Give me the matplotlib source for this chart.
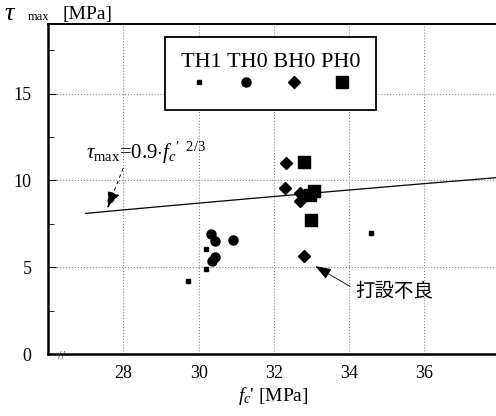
import matplotlib
matplotlib.use('Agg')
import numpy as np
import matplotlib.pyplot as plt
from matplotlib.ticker import MultipleLocator

plt.rcParams['font.family'] = ['Liberation Serif', 'Noto Sans CJK JP', 'DejaVu Sans']
plt.rcParams['mathtext.fontset'] = 'custom'
plt.rcParams['mathtext.rm'] = 'Liberation Serif'
plt.rcParams['mathtext.it'] = 'Liberation Serif:italic'

# data
th1_fc = [30.21, 30.21, 29.72, 34.59]
th1_tau = [6.05, 4.89, 4.22, 6.97]
th0_fc = [30.32, 30.43, 30.91, 30.43, 30.35]
th0_tau = [6.94, 6.49, 6.55, 5.59, 5.34]
bh0_fc = [32.32, 32.31, 32.70, 32.69, 32.79]
bh0_tau = [10.98, 9.58, 9.28, 8.81, 5.63]
ph0_fc = [32.81, 32.95, 33.08, 32.99]
ph0_tau = [11.06, 9.15, 9.40, 7.71]
labels = ['TH1', 'TH0', 'BH0', 'PH0']

fc_line = np.linspace(27, 38, 50)
tau_line = 0.9 * fc_line ** (2 / 3)

fig = plt.figure(figsize=(4.96, 4.16), dpi=100)
ax = fig.add_axes([0.097, 0.149, 0.91, 0.793])

ax.plot(fc_line, tau_line, color='black', lw=0.9)
h1, = ax.plot(th1_fc, th1_tau, 's', color='black', ms=2.8, ls='none')
h2, = ax.plot(th0_fc, th0_tau, 'o', color='black', ms=6.5, ls='none')
h3, = ax.plot(bh0_fc, bh0_tau, 'D', color='black', ms=6.5, ls='none')
h4, = ax.plot(ph0_fc, ph0_tau, 's', color='black', ms=8.5, ls='none')

ax.set_xlim(26, 38)
ax.set_ylim(0, 19)
ax.set_xticks([28, 30, 32, 34, 36])
ax.set_yticks([0, 5, 10, 15])
ax.yaxis.set_minor_locator(MultipleLocator(2.5))
ax.tick_params(axis='x', length=0, labelsize=13, pad=8)
ax.tick_params(axis='y', which='both', direction='in', labelsize=13, pad=12)
ax.tick_params(axis='y', which='major', length=6)
ax.tick_params(axis='y', which='minor', length=4)
ax.grid(True, color='#888888', ls=':', lw=0.8)
ax.set_axisbelow(True)
for s in ['left', 'bottom']:
    ax.spines[s].set_linewidth(1.8)
ax.spines['top'].set_linewidth(1.4)
ax.spines['right'].set_visible(False)

ax.set_xlabel(r"$f_c$' [MPa]", fontsize=14, labelpad=2)
fig.text(0.008, 0.952, r'$\tau$', fontsize=19)
fig.text(0.056, 0.952, 'max', fontsize=9)
fig.text(0.125, 0.954, '[MPa]', fontsize=14)

leg = ax.legend([h1, h2, h3, h4], ['', '', '', ''], ncol=4,
                title='TH1 TH0 BH0 PH0', title_fontsize=16, fontsize=15,
                loc='upper left', bbox_to_anchor=(0.259, 0.961), borderaxespad=0,
                frameon=True, fancybox=False, edgecolor='black',
                handlelength=1.0, handletextpad=0.0, columnspacing=1.3,
                borderpad=0.75, framealpha=1)
leg.get_frame().set_linewidth(1.3)
leg._legend_box.sep = 2

ax.annotate(r'$\tau_{\rm max}$=0.9$\cdot f_c$$^{\prime\ \ 2/3}$', xy=(27.55, 8.25),
            xytext=(27.0, 11.6), fontsize=15, va='center',
            arrowprops=dict(arrowstyle='-|>,head_length=0.7,head_width=0.25',
                            color='black', ls=(0, (3, 4)),
                            lw=0.7, shrinkA=0, relpos=(0.32, 0.0)))
ax.annotate('打設不良', xy=(33.04, 5.14), xytext=(35.2, 3.6),
            fontsize=14, ha='center', va='center', family=['Noto Sans CJK JP'],
            arrowprops=dict(arrowstyle='-|>,head_length=0.7,head_width=0.25',
                            color='black', lw=0.6,
                            shrinkA=2, relpos=(0.0, 0.6)))
ax.text(26.35, -0.1, '//', fontsize=9, ha='center', va='center',
        color='#333333')

fig.savefig('out.png', dpi=100)
